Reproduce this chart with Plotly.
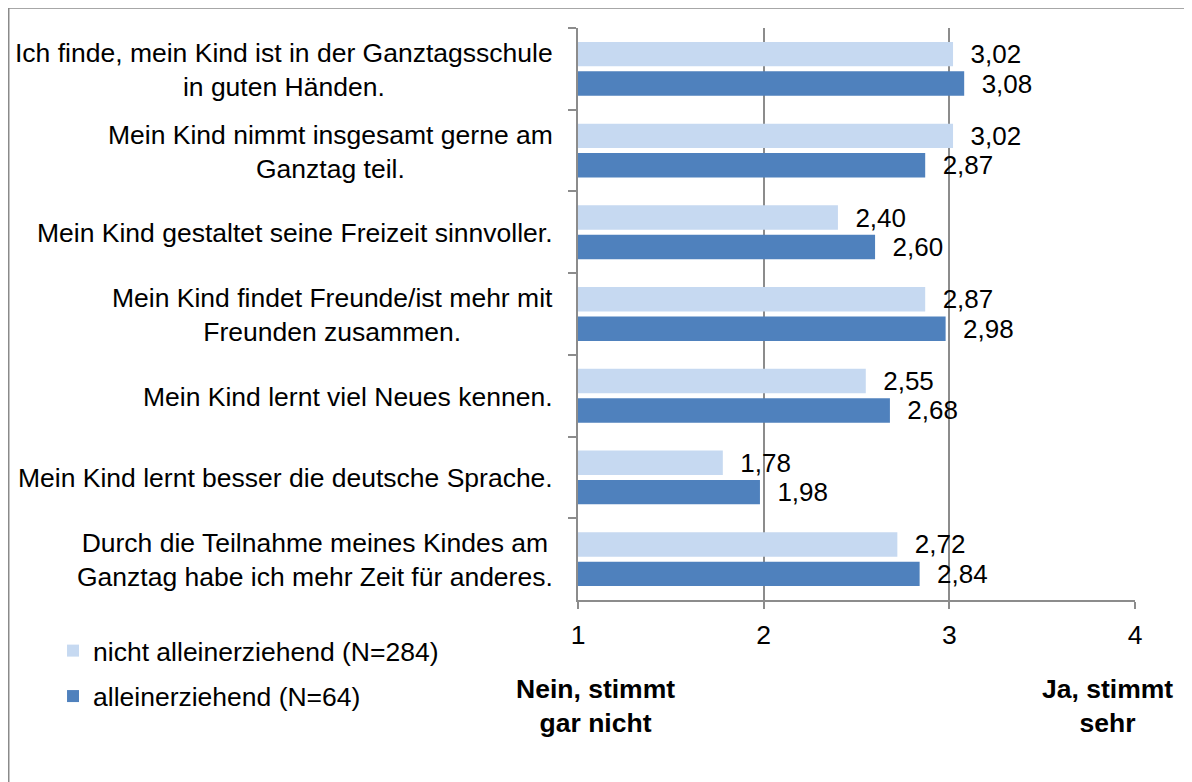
import plotly.graph_objects as go

categories = [
    "Ich finde, mein Kind ist in der Ganztagsschule<br>in guten Händen.",
    "Mein Kind nimmt insgesamt gerne am<br>Ganztag teil.",
    "Mein Kind gestaltet seine Freizeit sinnvoller.",
    "Mein Kind findet Freunde/ist mehr mit<br>Freunden zusammen.",
    "Mein Kind lernt viel Neues kennen.",
    "Mein Kind lernt besser die deutsche Sprache.",
    "Durch die Teilnahme meines Kindes am<br>Ganztag habe ich mehr Zeit für anderes.",
]
nicht_allein = [3.02, 3.02, 2.40, 2.87, 2.55, 1.78, 2.72]
allein = [3.08, 2.87, 2.60, 2.98, 2.68, 1.98, 2.84]
series_names = ["nicht alleinerziehend (N=284)", "alleinerziehend (N=64)"]
x_ticks = [1, 2, 3, 4]

FONT = "Liberation Sans, Arial, sans-serif"
FS = 26.5
LIGHT = "#C6D9F1"
DARK = "#4F81BD"
GRID = "#8C8C8C"

fig = go.Figure()
for i, (name, vals, col) in enumerate([(series_names[0], nicht_allein, LIGHT),
                                       (series_names[1], allein, DARK)]):
    fig.add_trace(go.Bar(
        y=categories, x=[v - 1 for v in vals], base=1, orientation="h",
        name=name, legendgroup=f"g{i}",
        marker=dict(color=col, line=dict(width=0)),
        text=[f"\u00a0\u00a0{v:.2f}".replace(".", ",") for v in vals],
        textposition="outside", cliponaxis=False, constraintext="none",
        textfont=dict(size=26, color="black", family=FONT),
    ))

annotations = []
for c in categories:
    annotations.append(dict(
        x=-0.041, xref="paper", y=c, yref="y", text=c, showarrow=False,
        xanchor="right", yanchor="middle", align="center", yshift=-1,
        font=dict(size=FS, color="black", family=FONT),
    ))
annotations.append(dict(x=0.032, xref="paper", y=-0.186, yref="paper",
                        text="<b>Nein, stimmt<br>gar nicht</b>", showarrow=False,
                        xanchor="center", yanchor="middle", align="center",
                        font=dict(size=FS, color="black", family=FONT)))
annotations.append(dict(x=0.95, xref="paper", y=-0.186, yref="paper",
                        text="<b>Ja, stimmt<br>sehr</b>", showarrow=False,
                        xanchor="center", yanchor="middle", align="center",
                        font=dict(size=FS, color="black", family=FONT)))

shapes = [
    dict(type="line", xref="paper", yref="paper", x0=-1.022, x1=1.2, y0=1.035, y1=1.035,
         line=dict(color="#8A8A8A", width=1.5)),
    dict(type="line", xref="paper", yref="paper", x0=-1.022, x1=-1.022, y0=1.035, y1=-0.35,
         line=dict(color="#8A8A8A", width=1.5)),
]

fig.update_layout(
    width=1192, height=782,
    margin=dict(l=570, r=65, t=20, b=190),
    paper_bgcolor="white", plot_bgcolor="white",
    barmode="group", bargap=0.28, bargroupgap=0.17,
    font=dict(family=FONT, size=FS, color="black"),
    separators=",.",
    annotations=annotations, shapes=shapes,
    legend=dict(x=-0.9425, y=-0.047, xanchor="left", yanchor="top",
                font=dict(size=FS, family=FONT, color="black"),
                bgcolor="rgba(0,0,0,0)", tracegroupgap=8, traceorder="grouped",
                itemwidth=30),
    showlegend=True,
)
fig.update_xaxes(range=[1, 4], tickvals=x_ticks, ticktext=[str(t) for t in x_ticks],
                 showgrid=True, gridcolor=GRID, gridwidth=1.5,
                 showline=True, linecolor=GRID, linewidth=1.5,
                 ticks="outside", ticklen=7, tickcolor=GRID, tickwidth=1.5,
                 ticklabelstandoff=3,
                 zeroline=False, tickfont=dict(size=FS, family=FONT, color="black"),
                 fixedrange=True)
fig.update_yaxes(autorange="reversed", showticklabels=False,
                 showline=True, linecolor=GRID, linewidth=1.5,
                 ticks="outside", tickson="boundaries", ticklen=8, tickcolor=GRID, tickwidth=1.5,
                 showgrid=False, fixedrange=True)

fig.write_html("out.html")
